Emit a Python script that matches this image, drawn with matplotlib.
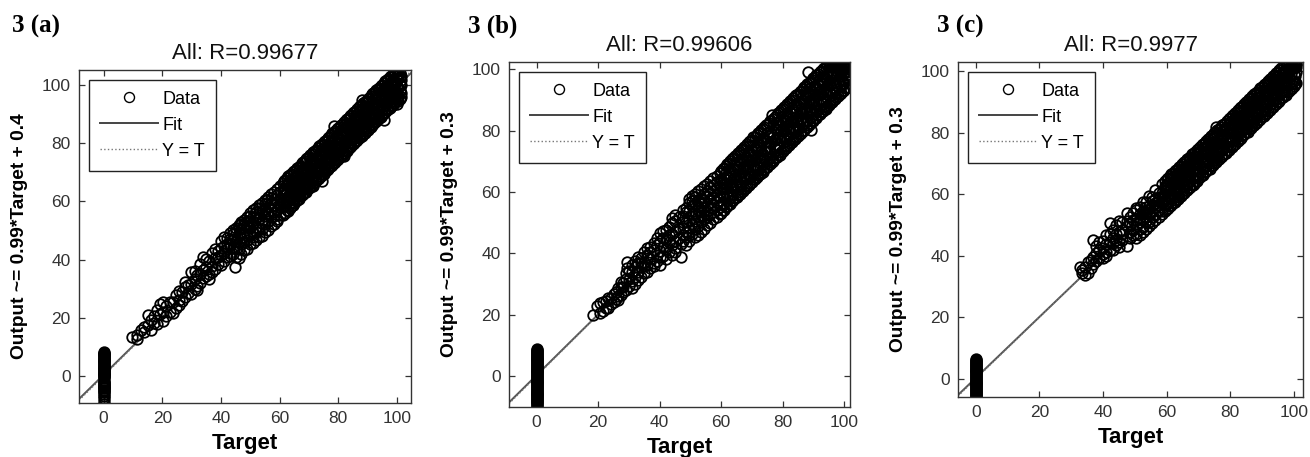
import matplotlib
matplotlib.use('Agg')
import matplotlib.pyplot as plt
from matplotlib.lines import Line2D

plt.rcParams['font.family'] = ['Liberation Sans', 'DejaVu Sans']

# ---------------- text ----------------
panel_labels = ['3 (a)', '3 (b)', '3 (c)']
titles = ['All: R=0.99677', 'All: R=0.99606', 'All: R=0.9977']
ylabels = ['Output ~= 0.99*Target + 0.4', 'Output ~= 0.99*Target + 0.3',
           'Output ~= 0.99*Target + 0.3']
xlabel = 'Target'
legend_labels = ['Data', 'Fit', 'Y = T']
fit_slopes = [0.99, 0.99, 0.99]
fit_intercepts = [0.4, 0.3, 0.3]
tick_values = [0, 20, 40, 60, 80, 100]

# ---------------- panel (a) data ----------------
a_zero_out = [8.3, 8.0, 7.7, 7.4, 7.1, 6.8, 6.5, 6.2, 5.9, 5.6, 5.3, 5.0, 4.7, 4.4,
              4.1, 3.8, 3.5, 3.2, 2.9, 2.6, 2.3, 2.0, 1.7, 1.4, 1.1, 0.8, 0.5, 0.2,
              -0.1, -0.4, -0.7, -1.9, -2.2, -2.5, -2.8, -3.1, -3.4, -3.7, -4.0, -4.3,
              -4.7, -5.1, -5.6, -6.2, -6.9, -7.7, -8.5, -9.5]
a_mid_targets = [9.6, 11.5, 12.8, 13.9, 15.2, 16.0, 17.1, 18.2, 19.2, 20.3, 21.4, 22.5,
                 23.6, 24.6, 25.7, 26.8, 27.8, 28.9, 29.9, 31.0, 32.0, 33.0, 34.0, 35.0,
                 36.0, 37.0, 38.0, 39.0, 40.0, 41.0, 42.0, 43.0, 44.0, 44.8, 45.0, 46.0,
                 47.0, 48.0, 49.0, 50.0, 51.0, 52.0, 53.0, 54.0, 55.0, 55.6, 56.0, 57.0,
                 58.0, 59.0, 60.0, 64.7]
a_mid_outputs = [[13.5], [14.2, 12.6], [15.9], [15.0, 16.8], [21.0, 17.6], [19.4, 15.8],
                 [20.5, 18.2], [22.6, 17.9], [21.4, 24.8], [18.8, 25.5, 22.0], [23.9, 20.6],
                 [22.1, 25.4], [25.3, 21.8], [23.4, 27.8], [26.2, 29.3, 24.5], [28.9, 25.9],
                 [27.1, 30.6, 32.2], [28.4, 31.4], [35.9, 31.5, 28.2], [29.9, 33.4, 36.2],
                 [31.0, 34.6, 29.6], [35.2, 32.1, 38.4], [41.0, 33.8, 36.6],
                 [37.5, 34.2, 40.1], [35.1, 39.6, 33.5], [42.2, 37.9, 35.6],
                 [40.5, 36.8, 43.6], [38.4, 42.9, 40.9], [41.6, 44.0, 38.2, 46.3],
                 [47.9, 42.3, 39.6, 44.8], [45.4, 40.8, 43.5, 47.6],
                 [44.9, 47.1, 41.4, 49.2], [44.5, 46.8, 42.1, 48.9, 50.3], [37.6, 45.9],
                 [46.3, 43.5, 49.7, 40.9, 51.0], [48.8, 45.9, 50.9, 43.6, 40.7, 51.8],
                 [47.4, 50.6, 45.2, 52.1, 41.9, 53.0], [49.3, 46.2, 51.8, 47.9, 43.3, 53.6],
                 [51.8, 48.4, 53.2, 46.7, 43.6, 54.7], [50.9, 53.2, 48.6, 55.0, 45.4, 56.1],
                 [49.6, 52.4, 54.6, 47.8, 45.6, 56.9], [54.6, 51.1, 56.3, 49.5, 46.9, 57.8],
                 [53.8, 50.7, 55.9, 57.6, 47.7, 58.9], [52.6, 53.7, 56.8, 50.4, 48.2, 59.6],
                 [57.3, 54.9, 52.1, 59.0, 49.6, 60.4], [60.6, 56.2],
                 [58.1, 55.6, 53.4, 50.3, 61.7], [59.4, 57.0, 54.8, 61.2, 51.5, 62.6],
                 [60.8, 56.5, 58.9, 55.0, 52.4, 63.4], [59.9, 62.3, 57.2, 54.1, 64.2, 53.3],
                 [58.2, 61.0, 63.1, 59.6, 55.3, 65.3], [58.7]]
a_dense_targets = [61.0, 61.5, 62.0, 62.5, 63.0, 63.5, 64.0, 64.5, 65.0, 65.5, 66.0,
                   66.5, 67.0, 67.5, 68.0, 68.5, 69.0, 69.5, 70.0, 70.5, 71.0, 71.5,
                   72.0, 72.5, 73.0, 73.5, 74.0, 74.5, 75.0, 75.5, 76.0, 76.5, 77.0,
                   77.5, 78.0, 78.5, 79.0, 79.5, 80.0, 80.5, 81.0, 81.5, 82.0, 82.5,
                   83.0, 83.5, 84.0, 84.5, 85.0, 85.5, 86.0, 86.5, 87.0, 87.5, 88.0,
                   88.5, 89.0, 89.5, 90.0, 90.5, 91.0, 91.5, 92.0, 92.5, 93.0, 93.5,
                   94.0, 94.5, 95.0, 95.5, 96.0, 96.5, 97.0, 97.5, 98.0, 98.5, 99.0,
                   99.5, 100.0, 100.5, 101.0, 101.5]
a_dense_outputs = [
    [58.4, 62.9, 60.6, 55.3, 66.2], [64.3, 60.0, 62.1, 56.0, 67.1],
    [58.3, 62.2, 64.2, 55.9, 67.4], [63.6, 60.3, 65.9, 57.2, 68.0],
    [62.0, 65.5, 60.0, 56.8, 68.9], [64.3, 59.3, 65.1, 57.7, 69.2],
    [61.4, 65.9, 63.6, 58.6, 69.4], [67.3, 63.0, 65.1, 58.9, 70.0],
    [61.3, 65.2, 67.2, 59.4, 70.6], [66.6, 63.3, 68.9, 60.2, 70.8],
    [65.0, 68.5, 63.0, 60.5, 71.6], [67.3, 62.3, 68.1, 61.0, 71.9],
    [64.4, 68.9, 66.6, 61.8, 72.3], [70.3, 66.0, 68.1, 62.1, 73.1],
    [64.3, 68.2, 70.2, 62.6, 73.4], [69.6, 66.3, 71.9, 63.3, 74.0],
    [68.0, 71.5, 66.0, 63.4, 74.6], [70.3, 65.3, 71.1, 64.2, 74.8],
    [67.4, 71.9, 69.6, 64.6, 75.3], [73.3, 69.0, 71.1, 65.1, 76.0],
    [67.3, 71.2, 73.2, 65.7, 76.4], [72.6, 65.2, 74.9, 66.3, 76.9],
    [71.0, 74.5, 69.0, 66.6, 77.5], [73.3, 68.3, 74.1, 67.4, 77.8],
    [70.4, 74.9, 72.6, 67.7, 78.4], [76.3, 72.0, 74.1, 68.1, 79.0],
    [70.3, 74.2, 76.2, 68.8, 79.3], [75.6, 66.9, 77.9, 69.5, 79.8],
    [74.0, 77.5, 72.0, 69.6, 80.4], [76.3, 71.3, 77.1, 70.4, 80.7],
    [73.4, 77.9, 75.6, 70.7, 81.3], [79.3, 75.0, 77.1, 71.1, 81.9],
    [73.3, 77.2, 79.2, 71.8, 82.2], [78.6, 75.3, 80.9, 72.2, 82.8],
    [77.0, 80.5, 75.0, 72.5, 83.4], [79.3, 74.3, 85.8, 73.1, 83.6],
    [76.4, 80.9, 78.6, 73.7, 84.3], [82.3, 78.0, 80.1, 74.2, 84.8],
    [76.3, 80.2, 82.2, 74.6, 85.3], [81.6, 78.3, 83.9, 75.3, 85.7],
    [80.0, 83.5, 78.0, 75.6, 86.4], [82.3, 77.3, 83.1, 76.1, 86.8],
    [79.4, 83.9, 75.5, 76.8, 87.3], [85.3, 81.0, 83.1, 77.2, 87.9],
    [79.3, 83.2, 85.2, 77.5, 88.2], [84.6, 81.3, 86.9, 78.3, 88.8],
    [83.0, 86.5, 81.0, 78.6, 89.4], [85.3, 80.3, 86.1, 79.2, 89.7],
    [82.4, 86.9, 84.6, 79.7, 90.3], [88.3, 84.0, 86.1, 80.1, 90.9],
    [82.3, 86.2, 88.2, 80.8, 91.2], [87.6, 84.3, 89.9, 81.1, 91.8],
    [86.0, 89.5, 84.0, 81.7, 92.4], [88.3, 83.3, 89.1, 82.2, 92.7],
    [85.4, 94.8, 87.6, 82.6, 93.2], [91.3, 87.0, 89.1, 83.3, 93.8],
    [85.3, 89.2, 91.2, 83.7, 94.3], [90.6, 87.3, 92.9, 84.2, 94.6],
    [89.0, 92.5, 87.0, 84.6, 95.3], [91.3, 86.3, 92.1, 85.2, 95.7],
    [88.4, 92.9, 90.6, 85.7, 96.2], [94.3, 90.0, 92.1, 86.2, 96.9],
    [88.3, 92.2, 94.2, 86.7, 97.2], [93.6, 90.3, 95.9, 87.4, 97.6],
    [92.0, 95.5, 90.0, 87.6, 98.3], [94.3, 89.3, 95.1, 88.3, 98.7],
    [91.4, 95.9, 93.6, 88.7, 99.1], [97.3, 93.0, 95.1, 89.2, 99.8],
    [91.3, 95.2, 97.2, 89.8, 100.2], [96.6, 87.9, 98.9, 90.3, 100.6],
    [95.0, 98.5, 93.0, 90.6, 101.3], [97.3, 92.3, 98.1, 91.3, 101.6],
    [94.4, 98.9, 96.6, 91.7, 102.2], [100.3, 96.0, 98.1, 92.2, 102.7],
    [94.3, 98.2, 100.2, 92.8, 103.1], [99.6, 96.3, 101.9, 93.1, 103.6],
    [98.0, 101.5, 96.0, 93.7, 104.1], [100.3, 95.3, 101.1, 94.4, 104.4],
    [97.4, 101.9, 99.6, 103.5, 93.5, 95.1, 104.8], [102.3, 99.0, 96.0, 94.6, 103.9],
    [98.3, 100.2, 104.2, 95.2, 102.8], [101.6, 97.3, 99.9, 96.0, 103.3]]

# ---------------- panel (b) data ----------------
b_zero_out = [8.7, 8.4, 8.1, 7.8, 7.5, 7.2, 6.9, 6.6, 6.3, 6.0, 5.7, 5.4, 5.1, 4.8,
              4.5, 4.2, 3.9, 3.6, 3.3, 3.0, 2.7, 2.4, 2.1, 1.8, 1.5, 1.2, 0.9, 0.6,
              0.3, 0.0, -0.3, -0.6, -0.9, -1.2, -1.5, -1.8, -2.1, -2.4, -2.7, -3.0,
              -3.3, -3.6, -3.9, -4.2, -4.5, -4.8, -5.1, -5.4, -5.7, -6.0, -6.3, -6.6,
              -6.9, -7.2, -7.5, -7.8, -8.1, -8.4, -8.8, -9.2, -9.7, -10.2]
b_mid_targets = [18.4, 19.5, 20.6, 21.5, 22.4, 23.3, 24.2, 25.0, 25.8, 26.6, 27.4, 28.2,
                 29.0, 29.4, 30.0, 31.0, 32.0, 33.0, 34.0, 35.0, 36.0, 37.0, 38.0, 39.0,
                 40.0, 41.0, 42.0, 43.0, 44.0, 45.0, 46.3, 46.8, 47.5, 48.5, 49.5, 50.5,
                 51.5, 52.5, 53.5, 54.5, 55.5, 56.5, 57.5, 58.5, 59.5]
b_mid_outputs = [[19.9], [22.8], [23.7, 20.4], [21.2, 24.0], [24.6, 22.3], [22.1, 25.4],
                 [25.3, 23.6], [24.2, 26.9], [27.5, 25.1], [26.0, 28.7, 24.9],
                 [28.9, 26.4, 30.8], [27.3, 30.2, 29.0], [28.0, 31.6, 33.5], [37.3, 35.1],
                 [31.6, 29.3, 34.2], [33.8, 31.0, 28.8, 36.1], [35.4, 32.4, 30.1, 37.5],
                 [36.8, 34.0, 31.3, 38.9], [38.5, 35.6, 32.2, 36.9],
                 [37.2, 40.3, 33.6, 35.8], [36.1, 39.4, 41.8, 34.0],
                 [42.0, 38.0, 35.2, 40.6], [41.2, 43.5, 37.0, 35.9],
                 [39.6, 42.8, 45.1, 37.4], [40.9, 43.9, 46.5, 36.3, 38.7],
                 [42.2, 45.0, 39.2, 47.4], [44.6, 47.6, 41.3, 38.2],
                 [43.6, 45.9, 48.7, 40.4], [46.2, 49.8, 42.7, 39.6, 51.5],
                 [47.3, 44.1, 50.6, 41.9, 52.6, 40.3], [51.9, 48.4, 45.0], [38.7, 43.2],
                 [48.4, 46.0, 52.3, 50.2, 43.9, 54.0],
                 [50.2, 53.6, 47.1, 45.3, 42.8, 54.9],
                 [56.3, 51.0, 48.5, 53.8, 46.0, 44.1, 57.8],
                 [52.7, 55.4, 49.6, 57.2, 46.4, 58.6],
                 [53.1, 50.7, 56.0, 58.3, 47.9, 45.2, 59.4],
                 [57.3, 54.2, 51.9, 55.6, 49.0, 46.0, 60.3],
                 [55.0, 58.1, 52.6, 56.8, 50.1, 47.1, 61.0],
                 [56.4, 53.9, 59.2, 57.5, 51.2, 48.0, 61.9],
                 [58.6, 55.3, 60.4, 53.8, 51.9, 49.2, 62.6],
                 [57.7, 59.6, 55.0, 61.5, 52.8, 50.0, 63.5],
                 [60.2, 57.9, 62.3, 55.8, 53.6, 51.1, 64.6],
                 [63.4, 59.0, 61.2, 56.6, 54.1, 52.0, 65.2],
                 [61.1, 58.3, 63.0, 60.0, 55.2, 52.8, 66.1]]
b_dense_targets = [60.0, 60.5, 61.0, 61.5, 62.0, 62.5, 63.0, 63.5, 64.0, 64.5, 65.0,
                   65.5, 66.0, 66.5, 67.0, 67.5, 68.0, 68.5, 69.0, 69.5, 70.0, 70.5,
                   71.0, 71.5, 72.0, 72.5, 73.0, 73.7, 74.0, 74.5, 75.0, 75.5, 76.0,
                   76.4, 76.9, 77.5, 78.0, 78.5, 79.0, 79.5, 80.0, 80.5, 81.0, 81.5,
                   82.0, 82.5, 83.0, 83.5, 84.0, 84.5, 85.0, 85.5, 86.0, 86.5, 87.0,
                   87.5, 88.0, 88.3, 88.5, 89.0, 89.3, 89.5, 90.0, 90.5, 91.0, 91.5,
                   92.0, 92.5, 93.0, 93.5, 94.0, 94.2, 94.5, 95.0, 95.5, 96.0, 96.5,
                   97.0, 97.5, 98.0, 98.5, 99.0, 99.5, 100.0, 100.5, 101.0]
b_dense_outputs = [
    [56.1, 61.6, 64.2, 53.2, 66.8], [63.4, 59.3, 55.9, 54.0, 67.4],
    [61.4, 64.7, 58.5, 54.1, 67.9], [59.7, 66.3, 62.5, 55.0, 68.6],
    [65.3, 58.8, 61.4, 55.3, 69.1], [58.1, 64.6, 62.5, 56.0, 69.4],
    [59.1, 64.6, 67.2, 56.2, 70.1], [66.4, 62.3, 58.9, 57.1, 70.7],
    [64.4, 67.7, 61.5, 57.3, 71.0], [62.7, 69.3, 65.5, 58.0, 71.8],
    [68.3, 61.8, 64.4, 58.4, 72.1], [61.1, 67.6, 65.5, 59.1, 72.6],
    [62.1, 67.6, 70.2, 59.2, 73.2], [69.4, 65.3, 61.9, 60.1, 73.6],
    [67.4, 70.7, 64.5, 60.3, 74.1], [65.7, 72.3, 68.5, 61.0, 74.8],
    [71.3, 64.8, 67.4, 61.4, 75.0], [64.1, 70.6, 68.5, 62.1, 75.7],
    [65.1, 70.6, 73.2, 62.2, 76.2], [72.4, 68.3, 64.9, 63.0, 76.6],
    [70.4, 73.7, 67.5, 63.3, 77.1], [68.7, 75.3, 71.5, 64.1, 77.8],
    [74.3, 67.8, 70.4, 64.2, 78.0], [67.1, 73.6, 71.5, 65.0, 78.7],
    [68.1, 73.6, 76.2, 65.4, 79.2], [75.4, 71.3, 67.9, 66.0, 79.6],
    [73.4, 76.7, 70.5, 66.3, 80.1], [66.6, 77.2, 72.3, 67.2, 80.6],
    [77.3, 70.8, 73.4, 67.4, 81.1], [70.1, 76.6, 74.5, 68.0, 81.7],
    [71.1, 76.6, 79.2, 68.3, 82.0], [78.4, 74.3, 70.9, 69.1, 82.6],
    [76.4, 79.7, 73.5, 69.2, 83.2], [85.1, 78.0, 69.9],
    [70.4, 81.7, 77.9, 70.1, 83.8], [80.8, 74.3, 76.9, 71.0, 84.6],
    [73.6, 80.1, 78.0, 71.3, 85.0], [74.6, 80.1, 82.7, 72.0, 85.7],
    [81.9, 77.8, 74.4, 72.2, 86.1], [79.9, 83.2, 77.0, 73.1, 86.6],
    [78.2, 84.8, 81.0, 73.3, 87.2], [83.8, 77.3, 79.9, 74.0, 87.6],
    [76.6, 83.1, 81.0, 74.2, 88.1], [77.6, 83.1, 85.7, 75.1, 88.7],
    [84.9, 80.8, 77.4, 75.2, 89.0], [82.9, 86.2, 80.0, 76.0, 89.7],
    [81.2, 87.8, 84.0, 76.4, 90.1], [86.8, 80.3, 82.9, 77.0, 90.6],
    [79.6, 86.1, 84.0, 77.3, 91.2], [80.6, 86.1, 88.7, 78.1, 91.6],
    [87.9, 83.8, 80.4, 78.2, 92.0], [85.9, 89.2, 83.0, 79.0, 92.7],
    [84.2, 90.8, 87.0, 79.4, 93.1], [89.8, 83.3, 85.9, 80.0, 93.6],
    [82.6, 89.1, 87.0, 80.3, 94.2], [83.6, 89.1, 91.7, 81.1, 94.5],
    [90.9, 86.8, 83.4, 81.2, 95.1], [99.2, 92.5],
    [88.9, 92.2, 86.0, 82.0, 95.7], [87.2, 93.8, 90.0, 82.4, 96.0],
    [80.2, 84.5], [92.8, 86.3, 88.9, 83.0, 96.6],
    [85.6, 92.1, 90.0, 83.3, 97.1], [86.6, 92.1, 94.7, 84.1, 97.5],
    [93.9, 89.8, 86.4, 84.2, 98.2], [91.9, 95.2, 89.0, 85.0, 98.6],
    [90.2, 96.8, 93.0, 85.3, 99.0], [95.8, 89.3, 91.9, 86.1, 99.6],
    [88.6, 95.1, 93.0, 86.4, 100.1], [89.6, 95.1, 97.7, 87.0, 100.5],
    [96.9, 92.8, 89.4, 87.2, 100.9], [87.8],
    [94.9, 98.2, 92.0, 88.1, 101.3], [93.2, 99.8, 96.0, 88.3, 101.6],
    [98.8, 92.3, 94.9, 89.0, 101.9], [91.6, 98.1, 96.0, 89.4, 101.2],
    [92.6, 98.1, 100.7, 90.1, 101.8], [99.9, 95.8, 92.4, 90.3, 101.5],
    [97.9, 101.2, 95.0, 91.0, 102.0], [96.2, 101.8, 99.0, 91.4, 100.4],
    [101.8, 95.3, 97.9, 92.1, 100.2], [94.6, 101.1, 99.0, 92.3, 102.1],
    [95.6, 101.1, 101.7, 93.0, 99.8], [101.9, 98.8, 95.4, 101.0, 93.3, 100.4],
    [100.9, 101.7, 98.0, 94.0, 99.6], [99.2, 101.5, 97.0, 94.4, 100.0]]

# ---------------- panel (c) data ----------------
c_zero_out = [6.3, 6.0, 5.7, 5.4, 5.1, 4.8, 4.5, 4.2, 3.9, 3.6, 3.3, 3.0, 2.7, 2.4,
              2.1, 1.8, 1.5, 1.2, 0.9, 0.6, 0.3, 0.0, -0.3, -0.6, -0.9, -1.2, -1.5,
              -1.8, -2.1, -2.4, -2.7, -3.0, -3.3, -3.6, -3.9, -4.2, -4.5, -4.8, -5.2,
              -5.6, -6.0]
c_mid_targets = [32.7, 33.5, 34.3, 35.3, 36.2, 36.9, 37.8, 38.9, 40.0, 41.0, 42.1, 43.0,
                 44.0, 45.0, 46.0, 47.4, 48.4, 49.4, 50.5, 51.5, 52.5, 53.5, 54.5, 55.5,
                 56.5, 57.5, 58.5, 59.5, 68.3, 78.8, 88.2]
c_mid_outputs = [[36.4], [34.3, 35.5], [36.4, 33.8], [34.3, 37.8], [38.6, 36.0],
                 [45.0, 39.7, 37.2], [40.9, 38.3, 43.1], [44.5, 39.4, 41.8],
                 [39.1, 42.6, 44.9, 40.5], [43.8, 41.2, 46.7, 39.9],
                 [50.6, 44.3, 42.0, 47.2], [45.6, 48.4, 41.9, 44.0],
                 [46.9, 43.4, 49.8, 45.2], [51.2, 47.7, 44.6, 42.9],
                 [48.3, 50.9, 45.1, 47.0], [53.8, 43.0, 49.6, 51.3],
                 [50.2, 47.6, 52.4, 45.9], [48.4, 51.5, 53.9, 46.8],
                 [51.6, 54.8, 49.3, 47.2, 45.8, 55.6],
                 [53.4, 50.9, 52.2, 48.6, 55.9, 46.7],
                 [54.6, 51.7, 53.5, 49.4, 47.6, 57.5],
                 [55.8, 52.6, 54.0, 51.3, 57.4, 48.6],
                 [56.2, 53.8, 55.1, 51.0, 49.6, 59.4],
                 [57.6, 54.3, 56.0, 52.4, 59.2, 50.5],
                 [58.3, 55.7, 57.1, 53.1, 51.6, 61.3],
                 [59.1, 56.4, 58.3, 54.9, 60.5, 52.6],
                 [60.2, 57.2, 58.9, 54.6, 53.6, 63.2],
                 [61.4, 58.0, 60.1, 56.4, 62.6, 54.5, 64.3],
                 [63.0], [73.2, 80.4], [83.0]]
c_dense_targets = [60.0, 60.5, 61.0, 61.5, 62.0, 62.5, 63.0, 63.5, 64.0, 64.5, 65.0,
                   65.5, 66.0, 66.5, 67.0, 67.5, 68.0, 68.5, 69.0, 69.5, 70.0, 70.5,
                   71.0, 71.5, 72.0, 72.5, 73.0, 73.5, 74.0, 74.5, 75.0, 75.6, 76.0,
                   76.5, 77.0, 77.5, 78.0, 79.0, 79.5, 80.0, 80.5, 81.0, 81.5, 82.0,
                   82.5, 83.0, 83.5, 84.0, 84.5, 85.0, 85.5, 86.0, 86.5, 87.0, 87.5,
                   88.0, 88.5, 89.0, 89.5, 90.0, 90.5, 91.0, 91.5, 92.0, 92.5, 93.0,
                   93.5, 94.0, 94.5, 95.0, 95.5, 96.0, 96.5, 97.0, 97.5, 98.0, 98.5,
                   99.0, 99.5, 100.0, 100.3, 100.8]
c_dense_outputs = [
    [57.2, 61.3, 63.1, 55.1, 64.9], [62.9, 59.6, 57.1, 55.4, 65.2],
    [61.3, 63.9, 59.1, 56.2, 65.8], [60.2, 65.0, 62.3, 56.4, 66.4],
    [64.0, 59.6, 61.6, 57.1, 66.7], [59.2, 64.2, 62.5, 57.3, 67.4],
    [60.2, 64.3, 66.1, 58.2, 67.7], [65.9, 62.6, 60.1, 58.4, 68.3],
    [64.3, 66.9, 62.1, 59.0, 68.9], [63.2, 68.0, 65.3, 59.4, 69.2],
    [67.0, 62.6, 64.6, 60.1, 69.8], [62.2, 67.2, 65.5, 60.3, 70.3],
    [63.2, 67.3, 69.1, 61.2, 70.7], [68.9, 65.6, 63.1, 61.4, 71.4],
    [67.3, 69.9, 65.1, 62.0, 71.8], [66.2, 71.0, 68.3, 62.3, 72.2],
    [70.0, 65.6, 67.6, 63.2, 72.9], [65.2, 70.2, 68.5, 63.4, 73.3],
    [66.2, 70.3, 72.1, 64.1, 73.7], [71.9, 68.6, 66.1, 64.3, 74.4],
    [70.3, 72.9, 68.1, 65.1, 74.8], [69.2, 74.0, 71.3, 65.4, 75.2],
    [73.0, 68.6, 70.6, 66.2, 75.9], [68.2, 73.2, 71.5, 66.3, 76.3],
    [69.2, 73.3, 75.1, 67.1, 76.7], [74.9, 71.6, 69.1, 67.4, 77.4],
    [73.3, 75.9, 71.1, 68.1, 77.8], [72.2, 77.0, 74.3, 68.3, 78.2],
    [76.0, 71.6, 73.6, 69.2, 78.9], [71.2, 76.2, 74.5, 69.4, 79.3],
    [72.2, 76.3, 78.1, 70.0, 79.7], [81.8, 74.5, 72.4, 70.5, 80.3],
    [76.3, 78.9, 74.1, 71.1, 80.9], [75.2, 80.0, 77.3, 71.4, 81.2],
    [79.0, 74.6, 76.6, 72.2, 81.8], [74.2, 79.2, 77.5, 72.3, 82.4],
    [75.2, 79.3, 81.1, 73.1, 82.7], [81.4, 78.1, 75.6, 74.3, 83.9],
    [79.8, 82.4, 77.6, 74.4, 84.3], [78.7, 83.5, 80.8, 75.2, 84.8],
    [82.5, 78.1, 80.1, 75.4, 85.3], [77.7, 82.7, 81.0, 76.1, 85.7],
    [78.7, 82.8, 84.6, 76.3, 86.3], [84.4, 81.1, 78.6, 77.2, 86.8],
    [82.8, 85.4, 80.6, 77.4, 87.2], [81.7, 86.5, 83.8, 78.0, 87.9],
    [85.5, 81.1, 83.1, 78.3, 88.2], [80.7, 85.7, 84.0, 79.1, 88.7],
    [81.7, 85.8, 87.6, 79.4, 89.4], [87.4, 84.1, 81.6, 80.2, 89.8],
    [85.8, 88.4, 83.6, 80.3, 90.2], [84.7, 89.5, 86.8, 81.1, 90.8],
    [88.5, 84.1, 86.1, 81.4, 91.3], [83.7, 88.7, 87.0, 82.0, 91.7],
    [84.7, 88.8, 90.6, 82.3, 92.4], [90.4, 87.1, 84.6, 83.2, 92.8],
    [88.8, 91.4, 86.6, 83.4, 93.2], [87.7, 92.5, 89.8, 84.1, 93.8],
    [91.5, 87.1, 89.1, 84.3, 94.3], [86.7, 91.7, 90.0, 85.2, 94.7],
    [87.7, 91.8, 93.6, 85.4, 95.3], [93.4, 90.1, 87.6, 86.1, 95.9],
    [91.8, 94.4, 89.6, 86.3, 96.2], [90.7, 95.5, 92.8, 87.0, 96.7],
    [94.5, 90.1, 92.1, 87.4, 97.4], [89.7, 94.7, 93.0, 88.2, 97.8],
    [90.7, 94.8, 96.6, 88.3, 98.2], [96.4, 93.1, 90.6, 89.1, 98.8],
    [94.8, 97.4, 92.6, 89.4, 99.3], [93.7, 98.5, 95.8, 90.0, 99.7],
    [97.5, 93.1, 95.1, 90.3, 100.4], [92.7, 97.7, 96.0, 91.2, 100.8],
    [93.7, 97.8, 99.6, 91.4, 101.2], [99.4, 96.1, 93.6, 92.1, 101.9],
    [97.8, 100.4, 95.6, 92.3, 102.2], [96.7, 101.5, 98.8, 93.2, 102.6],
    [100.5, 96.1, 98.1, 93.4, 102.1], [95.7, 100.7, 99.0, 94.1, 102.7],
    [96.7, 100.8, 102.4, 94.3, 101.9], [102.4, 99.1, 96.6, 101.0, 95.2, 102.5],
    [102.6, 101.6, 98.4, 95.6], [99.8, 102.2, 96.0, 101.4]]

panels = [
    dict(zero=a_zero_out, groups=[(a_mid_targets, a_mid_outputs),
                                  (a_dense_targets, a_dense_outputs)],
         xlim=(-8.4, 104.8), ylim=(-9.3, 105.2)),
    dict(zero=b_zero_out, groups=[(b_mid_targets, b_mid_outputs),
                                  (b_dense_targets, b_dense_outputs)],
         xlim=(-9.0, 101.9), ylim=(-10.1, 102.4)),
    dict(zero=c_zero_out, groups=[(c_mid_targets, c_mid_outputs),
                                  (c_dense_targets, c_dense_outputs)],
         xlim=(-5.6, 102.9), ylim=(-5.9, 102.9)),
]

# axes boxes in pixels (left, top, right, bottom) of a 1310x457 canvas
W, H = 1310, 457
boxes = [(79, 70, 411, 403), (509, 62, 850, 407), (958, 62, 1303, 397)]
label_pos = [(12, 33), (468, 33), (937, 33)]

fig = plt.figure(figsize=(W / 100, H / 100), dpi=100)
grey = '#333333'
MS, MEW = 7.6, 1.3

for i, p in enumerate(panels):
    l, t, r, b = boxes[i]
    ax = fig.add_axes([l / W, (H - b) / H, (r - l) / W, (b - t) / H])
    xs = [0.0] * len(p['zero'])
    ys = list(p['zero'])
    for tlist, olist in p['groups']:
        assert len(tlist) == len(olist)
        for tv, grp in zip(tlist, olist):
            for ov in grp:
                xs.append(tv)
                ys.append(ov)
    x0, x1 = p['xlim']
    ax.plot([x0, x1], [fit_slopes[i] * x0 + fit_intercepts[i],
                       fit_slopes[i] * x1 + fit_intercepts[i]],
            '-', color='#555555', lw=1.4, zorder=1)
    ax.plot([x0, x1], [x0, x1], ':', color='#777777', lw=1.0, zorder=1)
    ax.plot(xs, ys, 'o', mfc='none', mec='black', ms=MS, mew=MEW, zorder=2)
    ax.set_xlim(p['xlim'])
    ax.set_ylim(p['ylim'])
    ax.set_xticks(tick_values)
    ax.set_yticks(tick_values)
    ax.tick_params(direction='in', top=True, right=True, length=4, width=0.9,
                   color=grey, labelcolor=grey, labelsize=12.5, pad=6)
    for s in ax.spines.values():
        s.set_color(grey)
        s.set_linewidth(1.0)
    ax.set_title(titles[i], fontsize=16, pad=8, color='#111111')
    ax.set_xlabel(xlabel, fontsize=16, fontweight='bold', labelpad=5)
    ax.set_ylabel(ylabels[i], fontsize=13.8, fontweight='bold', labelpad=10)
    handles = [Line2D([], [], ls='none', marker='o', mfc='none', mec='black',
                      ms=7.2, mew=1.0),
               Line2D([], [], ls='-', color='#444444', lw=1.4),
               Line2D([], [], ls=':', color='#777777', lw=1.0)]
    leg = ax.legend(handles, legend_labels, loc='upper left', fontsize=13,
                    frameon=True, fancybox=False, framealpha=1, edgecolor='#222222',
                    handlelength=3.2, handletextpad=0.25, labelspacing=0.5,
                    borderpad=0.6, borderaxespad=0.55, numpoints=1)
    leg.get_frame().set_linewidth(1.0)
    leg.set_zorder(5)
    fig.text(label_pos[i][0] / W, 1 - label_pos[i][1] / H, panel_labels[i],
             family=['Liberation Serif', 'DejaVu Serif'], fontweight='bold',
             fontsize=18, ha='left', va='baseline')

fig.savefig('out.png', dpi=100)
